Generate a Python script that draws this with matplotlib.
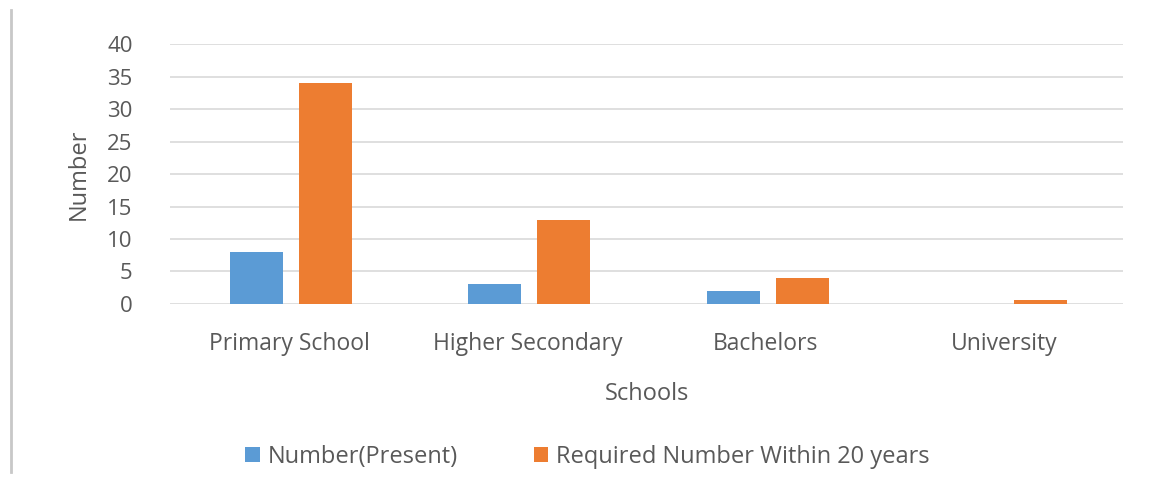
import matplotlib
matplotlib.use("Agg")
import matplotlib.pyplot as plt
import numpy as np
from matplotlib.lines import Line2D

plt.rcParams['font.family'] = ['Open Sans', 'DejaVu Sans']

schools = ["Primary School", "Higher Secondary", "Bachelors", "University"]
present = [8, 3, 2, 0]
required = [34, 13, 4, 0.6]
yticks = [0, 5, 10, 15, 20, 25, 30, 35, 40]

txt = "#595959"
fig = plt.figure(figsize=(11.52, 4.82), dpi=100)
ax = fig.add_axes([0.1476, 0.3693, 0.8274, 0.5394])

x = np.arange(len(schools))
w = 0.222
ax.bar(x - 0.137, present, w, color="#5b9bd5", label="Number(Present)", zorder=3)
ax.bar(x + 0.153, required, w, color="#ed7d31", label="Required Number Within 20 years", zorder=3)

ax.set_xlim(-0.5, 3.5)
ax.set_ylim(0, 40)
ax.set_yticks(yticks)
ax.set_xticks(x)
ax.set_xticklabels(schools, fontsize=16.5, color=txt)
ax.tick_params(axis="y", labelsize=16, labelcolor=txt, length=0, pad=27)
ax.tick_params(axis="x", length=0, pad=20)
ax.grid(axis="y", color="#d9d9d9", linewidth=1.2, zorder=0)
for s in ax.spines.values():
    s.set_visible(False)

ax.set_ylabel("Number", fontsize=17, color=txt, labelpad=12)
ax.set_xlabel("Schools", fontsize=17, color=txt, labelpad=19)

fig.legend(loc="center", bbox_to_anchor=(0.51, 0.052), ncol=2, frameon=False,
           fontsize=17, labelcolor=txt, handlelength=0.6, handleheight=0.6,
           handletextpad=0.35, columnspacing=3.2)

fig.add_artist(Line2D([0.0095, 0.0095], [0.02, 0.98], color="#c8c8c8", linewidth=2,
                      transform=fig.transFigure))

fig.savefig("out.png", dpi=100)
